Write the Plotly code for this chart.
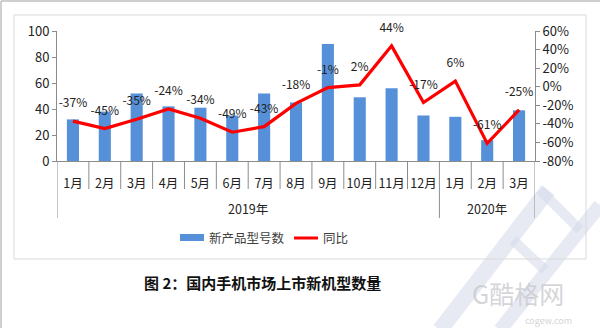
import plotly.graph_objects as go

months = ["1月", "2月", "3月", "4月", "5月", "6月", "7月", "8月", "9月", "10月", "11月", "12月", "1月", "2月", "3月"]
years = ["2019年"] * 12 + ["2020年"] * 3
new_models = [32, 38, 52, 42, 41, 35, 52, 45, 90, 49, 56, 35, 34, 16, 39]
yoy = [-0.37, -0.45, -0.35, -0.24, -0.34, -0.49, -0.43, -0.18, -0.01, 0.02, 0.44, -0.17, 0.06, -0.61, -0.25]
yoy_labels = ["-37%", "-45%", "-35%", "-24%", "-34%", "-49%", "-43%", "-18%", "-1%", "2%", "44%", "-17%", "6%", "-61%", "-25%"]
left_ticks = [0, 20, 40, 60, 80, 100]
right_ticks = [0.6, 0.4, 0.2, 0, -0.2, -0.4, -0.6, -0.8]
right_ticktext = ["60%", "40%", "20%", "0%", "-20%", "-40%", "-60%", "-80%"]
series_names = ["新产品型号数", "同比"]
title_text = "图 2：国内手机市场上市新机型数量"

W, H = 600, 328
L, R, T, B = 57, 65, 31, 167
pw, ph = W - L - R, H - T - B

def px(x):
    return (x - L) / pw

def py(y):
    return (H - B - y) / ph

FONT = "Noto Sans CJK SC, Liberation Sans, sans-serif"
BLUE = "#5690D8"
RED = "#FF0000"
AX = "#8c8c8c"

pos = list(range(len(months)))

fig = go.Figure()
fig.add_trace(go.Bar(
    x=pos, y=new_models, name=series_names[0],
    marker=dict(color=BLUE, line=dict(width=0)),
    width=0.38,
))
fig.add_trace(go.Scatter(
    x=pos, y=yoy, name=series_names[1], yaxis="y2",
    mode="lines", line=dict(color=RED, width=3.2),
))
fig.add_trace(go.Scatter(
    x=pos, y=yoy, yaxis="y2", showlegend=False,
    mode="markers+text", text=yoy_labels, textposition="top center",
    marker=dict(size=16, color="rgba(0,0,0,0)"),
    textfont=dict(size=12, color="#222222", family=FONT),
    cliponaxis=False, hoverinfo="skip",
))

fig.update_layout(
    width=W, height=H,
    margin=dict(l=L, r=R, t=T, b=B),
    paper_bgcolor="white", plot_bgcolor="white",
    font=dict(family=FONT, size=12, color="#333333"),
    showlegend=False,
    xaxis=dict(
        range=[-0.5, len(months) - 0.5], tickvals=pos, ticktext=months,
        showline=True, linecolor=AX, linewidth=1, ticks="",
        ticklabelstandoff=11, tickangle=0,
        tickfont=dict(size=12.5, color="#222222"),
        showgrid=False, zeroline=False,
    ),
    yaxis=dict(
        range=[0, 100], tickvals=left_ticks, showgrid=False, zeroline=False,
        showline=True, linecolor=AX, ticks="outside", ticklen=4, tickcolor=AX,
        tickfont=dict(size=13, color="#222222"),
    ),
    yaxis2=dict(
        range=[-0.8, 0.6], tickvals=right_ticks, ticktext=right_ticktext,
        overlaying="y", side="right", showgrid=False, zeroline=False,
        showline=True, linecolor=AX, ticks="outside", ticklen=4, tickcolor=AX,
        tickfont=dict(size=13, color="#222222"),
    ),
)

WM = "rgba(212,216,234,0.55)"
shapes = [
    # watermark strokes
    dict(type="line", xref="paper", yref="paper", x0=px(440), x1=px(548), y0=py(330), y1=py(190),
         line=dict(color=WM, width=16), layer="below"),
    dict(type="line", xref="paper", yref="paper", x0=px(500), x1=px(600), y0=py(330), y1=py(205),
         line=dict(color=WM, width=14), layer="below"),
    dict(type="line", xref="paper", yref="paper", x0=px(540), x1=px(580), y0=py(190), y1=py(230),
         line=dict(color=WM, width=10), layer="below"),
    dict(type="line", xref="paper", yref="paper", x0=px(513), x1=px(545), y0=py(240), y1=py(270),
         line=dict(color=WM, width=10), layer="below"),
    # chart box
    dict(type="rect", xref="paper", yref="paper", x0=px(14), x1=px(586), y0=py(259), y1=py(15),
         line=dict(color="#d9d9d9", width=1), fillcolor="rgba(0,0,0,0)", layer="below"),
    # outer frame
    dict(type="line", xref="paper", yref="paper", x0=px(1), x1=px(600), y0=py(1), y1=py(1),
         line=dict(color="#bfbfbf", width=1.5)),
    dict(type="line", xref="paper", yref="paper", x0=px(1), x1=px(1), y0=py(1), y1=py(328),
         line=dict(color="#bfbfbf", width=1.5)),
    # legend symbols
    dict(type="rect", xref="paper", yref="paper", x0=px(180), x1=px(204), y0=py(241), y1=py(234),
         line=dict(width=0), fillcolor=BLUE),
    dict(type="line", xref="paper", yref="paper", x0=px(294), x1=px(318), y0=py(238), y1=py(238),
         line=dict(color=RED, width=3)),
]

# category dividers derived from the month/year arrays
for i in range(len(months) + 1):
    is_year_edge = i == 0 or i == len(months) or years[i] != years[i - 1]
    shapes.append(dict(type="line", xref="x", yref="paper", x0=i - 0.5, x1=i - 0.5,
                       y0=0, y1=py(218 if is_year_edge else 189),
                       line=dict(color=AX, width=1)))
fig.update_layout(shapes=shapes)

# year group labels
groups = []
for i, yv in enumerate(years):
    if not groups or groups[-1][0] != yv:
        groups.append([yv, i, i])
    else:
        groups[-1][2] = i
for yv, a, b in groups:
    fig.add_annotation(text=yv, xref="x", yref="paper", x=(a + b) / 2, y=py(208),
                       xanchor="center", yanchor="middle", showarrow=False,
                       font=dict(size=12.5, color="#222222", family=FONT))

fig.add_annotation(text=series_names[0], xref="paper", yref="paper", x=px(207), y=py(237),
                   xanchor="left", yanchor="middle", showarrow=False,
                   font=dict(size=12.5, color="#404040", family=FONT))
fig.add_annotation(text=series_names[1], xref="paper", yref="paper", x=px(321), y=py(237),
                   xanchor="left", yanchor="middle", showarrow=False,
                   font=dict(size=12.5, color="#404040", family=FONT))
fig.add_annotation(text="<b>" + title_text + "</b>", xref="paper", yref="paper",
                   x=px(262), y=py(282), xanchor="center", yanchor="middle", showarrow=False,
                   font=dict(size=15, color="#111111", family=FONT))
fig.add_annotation(text="G酷格网", xref="paper", yref="paper", x=px(518), y=py(293),
                   xanchor="center", yanchor="middle", showarrow=False,
                   font=dict(size=25, color="rgba(200,200,205,0.75)", family=FONT))
fig.add_annotation(text="cogew.com", xref="paper", yref="paper", x=px(548), y=py(320),
                   xanchor="center", yanchor="middle", showarrow=False,
                   font=dict(size=9, color="rgba(200,200,205,0.8)", family=FONT))

fig.write_html("out.html")
